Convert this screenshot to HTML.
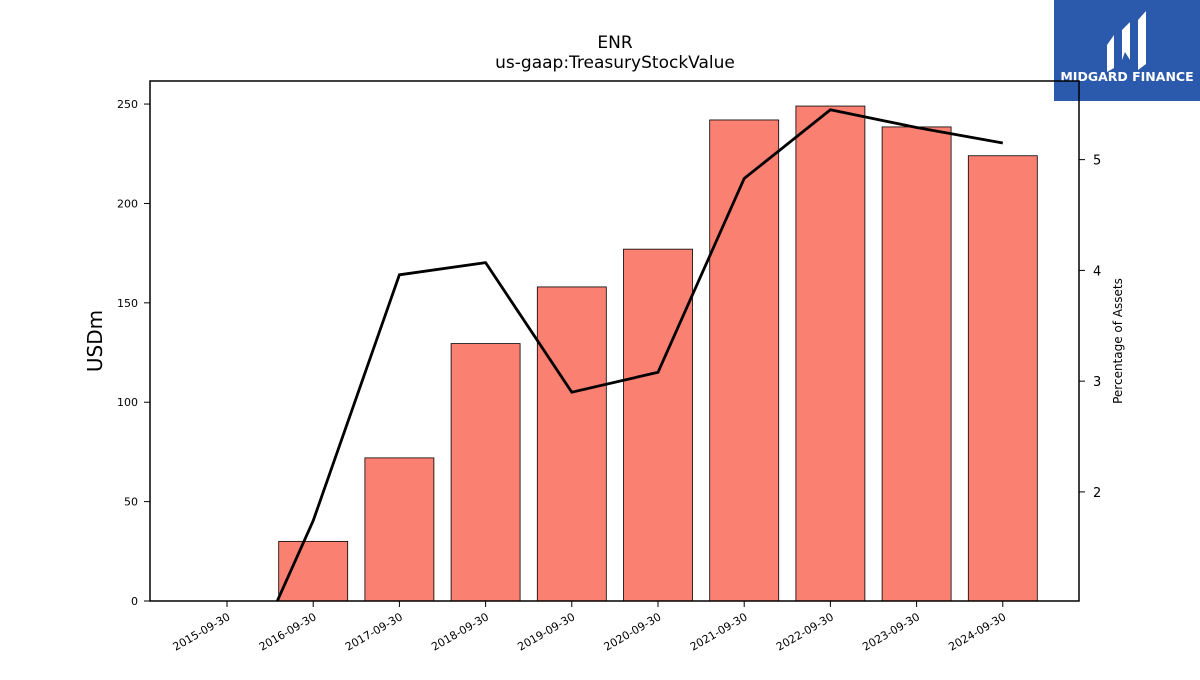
<!DOCTYPE html>
<html><head><meta charset="utf-8"><style>
body{margin:0;background:#fff;font-family:"Liberation Sans","DejaVu Sans",sans-serif}
</style></head><body>
<svg id="c" width="1200" height="675" xmlns="http://www.w3.org/2000/svg">
<rect width="1200" height="675" fill="#fff"/>
<text x="615" y="48" font-size="17" text-anchor="middle" font-family="DejaVu Sans, sans-serif">ENR</text>
<text x="615" y="68" font-size="17" text-anchor="middle" font-family="DejaVu Sans, sans-serif">us-gaap:TreasuryStockValue</text>
<g>
<rect x="1054" y="0" width="146" height="101" fill="#2b5aac"/>
<path d="M1107 45 L1114 35 L1114 68 L1107 72 Z M1122 30 L1130 22 L1130 60 L1125 52 L1122 60 Z M1138 20 L1146 11 L1146 64 L1138 70 Z" fill="#fff"/>
<text x="1127" y="81" font-size="12.5" font-weight="bold" fill="#fff" text-anchor="middle" font-family="DejaVu Sans, sans-serif">MIDGARD FINANCE</text>
</g>
<g id="bars"></g><g id="line"></g><g id="axes"></g>
</svg>
<script>
const categories=["2015-09-30","2016-09-30","2017-09-30","2018-09-30","2019-09-30","2020-09-30","2021-09-30","2022-09-30","2023-09-30","2024-09-30"];
const barValues=[0,30,72,129.5,158,177,242,249,238.5,224];
const pctValues=[0,1.74,3.96,4.07,2.90,3.08,4.83,5.45,5.29,5.15];
const leftTicks=[0,50,100,150,200,250];
const rightTicks=[2,3,4,5];
const L=150,R=1079,T=81,B=601;
const yL=v=>B-(v/261.6)*(B-T);
const rMin=1.015,rMax=5.71;
const yR=v=>B-(v-rMin)/(rMax-rMin)*(B-T);
const x=i=>227+i*86.2;
const NS="http://www.w3.org/2000/svg";
function mk(t,a,p){const e=document.createElementNS(NS,t);for(const k in a)e.setAttribute(k,a[k]);p.appendChild(e);return e;}
const bars=document.getElementById('bars'),line=document.getElementById('line'),axes=document.getElementById('axes');
barValues.forEach((v,i)=>{if(v<=0)return;const r=mk('rect',{x:x(i)-34.5,y:yL(v),width:69,height:B-yL(v),fill:'#fa8072',stroke:'#000','stroke-width':0.8},bars);

});
mk('clipPath',{id:'cp'},line).appendChild(document.createElementNS(NS,'rect'));
const cr=line.querySelector('clipPath rect');cr.setAttribute('x',L);cr.setAttribute('y',T);cr.setAttribute('width',R-L);cr.setAttribute('height',B-T);
const pl=mk('polyline',{points:pctValues.map((v,i)=>x(i)+','+yR(v)).join(' '),fill:'none',stroke:'#000','stroke-width':2.8,'clip-path':'url(#cp)'},line);


const fr=mk('rect',{x:L,y:T,width:R-L,height:B-T,fill:'none',stroke:'#000','stroke-width':1.5},axes);


leftTicks.forEach(v=>{const y=yL(v);mk('line',{x1:L-6,x2:L,y1:y,y2:y,stroke:'#000'},axes);
const t=mk('text',{x:L-12,y:y+4,'font-size':11,'text-anchor':'end','font-family':'DejaVu Sans, sans-serif'},axes);t.textContent=v;

});
rightTicks.forEach(v=>{const y=yR(v);mk('line',{x1:R,x2:R+6,y1:y,y2:y,stroke:'#000'},axes);
const t=mk('text',{x:R+14,y:y+5,'font-size':13,'font-family':'DejaVu Sans, sans-serif'},axes);t.textContent=v;

});
categories.forEach((c,i)=>{const X=x(i);mk('line',{x1:X,x2:X,y1:B,y2:B+6,stroke:'#000'},axes);
const t=mk('text',{x:X+4,y:B+18,'font-size':11,'text-anchor':'end','font-family':'DejaVu Sans, sans-serif',transform:`rotate(-30 ${X+4} ${B+18})`},axes);t.textContent=c;

});
const yt=mk('text',{x:102,y:341,'font-size':20,'text-anchor':'middle','font-family':'DejaVu Sans, sans-serif',transform:'rotate(-90 102 341)'},axes);yt.textContent='USDm';


const rt=mk('text',{x:1122,y:341,'font-size':12,'text-anchor':'middle','font-family':'DejaVu Sans, sans-serif',transform:'rotate(-90 1122 341)'},axes);rt.textContent='Percentage of Assets';


</script>
</body></html>
